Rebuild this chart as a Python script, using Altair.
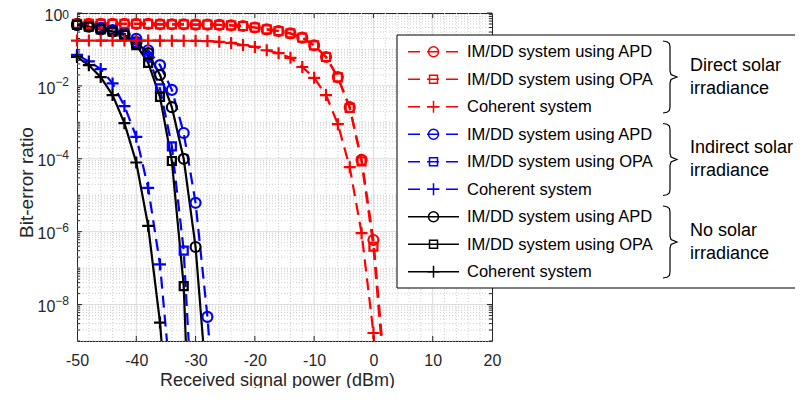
import altair as alt
import pandas as pd

FONT = "Liberation Sans"
AX = "#262626"
W, H = 415, 328

# ---------------- data (BER) ----------------
x_direct = [-50, -48, -46, -44, -42, -40, -38, -36, -34, -32, -30, -28, -26, -24,
            -22, -20, -18, -16, -14, -12, -10, -8, -6, -4, -2, 0, 2]
ber_direct_apd = [0.50, 0.50, 0.50, 0.50, 0.50, 0.50, 0.50, 0.49, 0.49, 0.49, 0.48, 0.48, 0.47, 0.46,
                  0.44, 0.40, 0.355, 0.32, 0.275, 0.21, 0.13, 0.062, 0.0174, 2.6e-3, 9.3e-5, 5.9e-7, 1e-10]
ber_direct_opa = [0.50, 0.50, 0.50, 0.50, 0.50, 0.50, 0.50, 0.49, 0.49, 0.49, 0.48, 0.48, 0.47, 0.46,
                  0.44, 0.40, 0.355, 0.32, 0.275, 0.21, 0.13, 0.062, 0.0172, 2.5e-3, 8.5e-5, 3.9e-7, 5e-11]
ber_direct_coh = [0.175, 0.175, 0.175, 0.175, 0.175, 0.175, 0.175, 0.174, 0.174, 0.173, 0.172, 0.17, 0.162, 0.151,
                  0.132, 0.117, 0.095, 0.079, 0.059, 0.033, 0.0166, 5.6e-3, 8.9e-4, 5.9e-5, 9.1e-7, 1.66e-9, 1e-13]

x_ind_apd = [-50, -48, -46, -44, -42, -40, -38, -36, -34, -32, -30, -28, -26]
ber_ind_apd = [0.47, 0.44, 0.39, 0.34, 0.26, 0.195, 0.095, 0.037, 7.8e-3, 5.1e-4, 6.2e-6, 4.6e-9, 3e-13]
x_ind_opa = [-50, -48, -46, -44, -42, -40, -38, -36, -34, -32, -30]
ber_ind_opa = [0.47, 0.44, 0.39, 0.34, 0.27, 0.151, 0.063, 8.5e-3, 2.2e-4, 3e-7, 3.2e-13]
x_ind_coh = [-50, -48, -46, -44, -42, -40, -38, -36, -34]
ber_ind_coh = [0.071, 0.047, 0.029, 0.0117, 2.8e-3, 4e-4, 1.6e-5, 1.26e-7, 3.2e-11]

x_no_apd = [-50, -48, -46, -44, -42, -40, -38, -36, -34, -32, -30, -28]
ber_no_apd = [0.47, 0.42, 0.355, 0.31, 0.25, 0.158, 0.079, 0.02, 2.6e-3, 1e-4, 3.8e-7, 3.2e-11]
x_no_opa = [-50, -48, -46, -44, -42, -40, -38, -36, -34, -32, -30]
ber_no_opa = [0.47, 0.42, 0.355, 0.31, 0.25, 0.132, 0.043, 5e-3, 8.7e-5, 3.2e-8, 1e-16]
x_no_coh = [-50, -48, -46, -44, -42, -40, -38, -36, -34]
ber_no_coh = [0.062, 0.037, 0.0174, 5.6e-3, 9.5e-4, 7.9e-5, 1.45e-6, 3.2e-9, 3.2e-13]

groups = ["Direct solar irradiance", "Indirect solar irradiance", "No solar irradiance"]
group_lines = [["Direct solar", "irradiance"], ["Indirect solar", "irradiance"], ["No solar", "irradiance"]]
kinds = ["IM/DD system using APD", "IM/DD system using OPA", "Coherent system"]
colors = ["#ff0000", "#0000ff", "#000000"]

x_ticks = [-50, -40, -30, -20, -10, 0, 10, 20]
y_label_exps = [0, -2, -4, -6, -8]

series_list = [
    (groups[0], kinds[0], x_direct, ber_direct_apd),
    (groups[0], kinds[1], x_direct, ber_direct_opa),
    (groups[0], kinds[2], x_direct, ber_direct_coh),
    (groups[1], kinds[0], x_ind_apd, ber_ind_apd),
    (groups[1], kinds[1], x_ind_opa, ber_ind_opa),
    (groups[1], kinds[2], x_ind_coh, ber_ind_coh),
    (groups[2], kinds[0], x_no_apd, ber_no_apd),
    (groups[2], kinds[1], x_no_opa, ber_no_opa),
    (groups[2], kinds[2], x_no_coh, ber_no_coh),
]
rows = []
for si, (g, k, xs, ys) in enumerate(series_list):
    for xv, yv in zip(xs, ys):
        rows.append(dict(group=g, kind=k, series=si, x=xv, ber=yv))
df = pd.DataFrame(rows)
df_pts = df[df.ber >= 1e-9]

# ---------------- scales / encodings ----------------
xscale = alt.Scale(domain=[-50, 20], nice=False, zero=False)
yscale = alt.Scale(type="log", domain=[1e-9, 1], nice=False)
color = alt.Color("group:N", scale=alt.Scale(domain=groups, range=colors), legend=None)
dash = alt.StrokeDash("group:N", scale=alt.Scale(domain=groups, range=[[12, 7], [12, 7], [1, 0]]), legend=None)
swidth = alt.StrokeWidth("group:N", scale=alt.Scale(domain=groups, range=[2.2, 2.2, 1.5]), legend=None)

xaxis = alt.Axis(values=x_ticks, labelExpr="'' + datum.value", labelFont=FONT, labelFontSize=16,
                 labelColor=AX, labelPadding=11, labelFlush=False, labelOverlap=False,
                 ticks=False, domain=False, grid=False,
                 title="Received signal power (dBm)", titleFont=FONT, titleFontSize=18,
                 titleFontWeight="normal", titleColor=AX, titleX=200, titleY=44,
                 titleBaseline="alphabetic", titleAlign="center")
Xn = lambda f: alt.X(f, scale=xscale, axis=xaxis)
Y = lambda f: alt.Y(f, scale=yscale, axis=None)

one = pd.DataFrame({"a": [0]})

# grid
x_major_grid = [v for v in x_ticks if -50 < v < 20]
x_minor_grid = [v for v in range(-48, 20, 2) if v % 10 != 0]
y_major = [10.0 ** e for e in y_label_exps if e < 0]
y_minor = [k * 10.0 ** e for e in range(-9, 0) for k in range(1, 10) if not (k == 1 and e % 2 == 0)]

grid_layers = [
    alt.Chart(pd.DataFrame({"v": x_minor_grid})).mark_rule(color="#cfcfcf", strokeWidth=1, strokeDash=[1, 2]).encode(x=Xn("v:Q")),
    alt.Chart(pd.DataFrame({"v": y_minor})).mark_rule(color="#cfcfcf", strokeWidth=1, strokeDash=[1, 2]).encode(y=Y("v:Q")),
    alt.Chart(pd.DataFrame({"v": x_major_grid})).mark_rule(color="#dcdcdc", strokeWidth=1).encode(x=Xn("v:Q")),
    alt.Chart(pd.DataFrame({"v": y_major})).mark_rule(color="#dcdcdc", strokeWidth=1).encode(y=Y("v:Q")),
]

lines = alt.Chart(df).mark_line(clip=True).encode(
    x=Xn("x:Q"), y=Y("ber:Q"), color=color, strokeDash=dash, strokeWidth=swidth,
    detail="series:N", order="x:Q")

plus_path = "M-1,0L1,0M0,-1L0,1"
pts = []
for k, shape, size in [(kinds[0], "circle", 100), (kinds[1], "square", 64), (kinds[2], plus_path, 144)]:
    pts.append(alt.Chart(df_pts[df_pts.kind == k]).mark_point(shape=shape, filled=False, size=size, opacity=1).encode(
        x=Xn("x:Q"), y=Y("ber:Q"), color=color, strokeWidth=swidth))

# ticks (inward)
y_major_ticks = [10.0 ** e for e in y_label_exps]
tick_layers = [
    alt.Chart(pd.DataFrame({"v": x_major_grid})).mark_rule(color=AX).encode(x=Xn("v:Q"), y=alt.value(H), y2=alt.value(H - 5)),
    alt.Chart(pd.DataFrame({"v": x_major_grid})).mark_rule(color=AX).encode(x=Xn("v:Q"), y=alt.value(0), y2=alt.value(5)),
    alt.Chart(pd.DataFrame({"v": y_major_ticks})).mark_rule(color=AX).encode(y=Y("v:Q"), x=alt.value(0), x2=alt.value(5)),
    alt.Chart(pd.DataFrame({"v": y_minor})).mark_rule(color=AX).encode(y=Y("v:Q"), x=alt.value(0), x2=alt.value(3)),
    alt.Chart(pd.DataFrame({"v": y_major_ticks})).mark_rule(color=AX).encode(y=Y("v:Q"), x=alt.value(W), x2=alt.value(W - 5)),
    alt.Chart(pd.DataFrame({"v": y_minor})).mark_rule(color=AX).encode(y=Y("v:Q"), x=alt.value(W), x2=alt.value(W - 3)),
]

# y tick labels 10^e
ylab = []
for e in y_label_exps:
    s = "0" if e == 0 else "\u2212" + str(-e)
    w = 6.7 if e == 0 else 13.7
    edy = 6 if e == 0 else 0.5
    d = pd.DataFrame({"v": [10.0 ** e]})
    ylab.append(alt.Chart(d).mark_text(align="right", baseline="alphabetic", font=FONT, fontSize=16, color=AX, dy=7.7).encode(
        x=alt.value(-8 - w), y=Y("v:Q"), text=alt.value("10")))
    ylab.append(alt.Chart(d).mark_text(align="left", baseline="alphabetic", font=FONT, fontSize=12, color=AX, dy=edy).encode(
        x=alt.value(-8 - w), y=Y("v:Q"), text=alt.value(s)))

ytitle = alt.Chart(one).mark_text(angle=270, align="center", baseline="middle", font=FONT, fontSize=19, color=AX).encode(
    x=alt.value(-50), y=alt.value(169.5), text=alt.value("Bit-error ratio"))

main = alt.layer(*grid_layers, lines, *pts, *tick_layers, *ylab, ytitle)

# ---------------- legend overlay (pixel-identity scales) ----------------
px = alt.Scale(domain=[0, W], nice=False, zero=False)
py = alt.Scale(domain=[0, H], nice=False, zero=False, reverse=True)
PX = lambda f: alt.X(f, scale=px, axis=None)
PY = lambda f: alt.Y(f, scale=py, axis=None)

row0, rstep = 38.7, 27.5
leg = pd.DataFrame([dict(group=groups[i // 3], kind=kinds[i % 3], ry=row0 + rstep * i,
                         ty=row0 + rstep * i + 5.6, x0=331, x1=382, xm=356.5, tx=390) for i in range(9)])

box = alt.Chart(pd.DataFrame({"x0": [320], "x1": [724], "y0": [22], "y1": [275]})).mark_rect(
    fill="white", stroke="#000000", strokeWidth=1).encode(x=PX("x0:Q"), x2="x1:Q", y=PY("y0:Q"), y2="y1:Q")
leg_lines = alt.Chart(leg).mark_rule(strokeWidth=1.6).encode(
    x=PX("x0:Q"), x2="x1:Q", y=PY("ry:Q"), color=color, strokeDash=dash)
leg_pts = []
for k, shape, size in [(kinds[0], "circle", 100), (kinds[1], "square", 64), (kinds[2], plus_path, 144)]:
    leg_pts.append(alt.Chart(leg[leg.kind == k]).mark_point(shape=shape, filled=False, size=size, opacity=1, strokeWidth=1.5).encode(
        x=PX("xm:Q"), y=PY("ry:Q"), color=color))
leg_text = alt.Chart(leg).mark_text(align="left", baseline="alphabetic", font=FONT, fontSize=16.5, color="#000000").encode(
    x=PX("tx:Q"), y=PY("ty:Q"), text="kind:N")

brace_rows = []
brace_shape = [(586, -36), (590, -35.3), (592.4, -33.5), (593, -30), (593, -6), (594, -2.5), (600, 0),
               (594, 2.5), (593, 6), (593, 30), (592.4, 33.5), (590, 35.3), (586, 36)]
glabel_rows = []
for gi in range(3):
    mid = row0 + rstep * (3 * gi + 1)
    cy = mid - 2.2
    for j, (bx, by) in enumerate(brace_shape):
        brace_rows.append(dict(b=gi, o=j, bx=bx, by=cy + by))
    glabel_rows.append(dict(t=group_lines[gi][0], gx=613, gy=mid - 8.6))
    glabel_rows.append(dict(t=group_lines[gi][1], gx=613, gy=mid + 14.7))
braces = alt.Chart(pd.DataFrame(brace_rows)).mark_line(color="#000000", strokeWidth=1.2).encode(
    x=PX("bx:Q"), y=PY("by:Q"), detail="b:N", order="o:Q")
glabels = alt.Chart(pd.DataFrame(glabel_rows)).mark_text(align="left", baseline="alphabetic", font=FONT, fontSize=18, color="#000000").encode(
    x=PX("gx:Q"), y=PY("gy:Q"), text="t:N")

overlay = alt.layer(box, leg_lines, *leg_pts, leg_text, braces, glabels)

chart = alt.layer(main, overlay).resolve_scale(x="independent", y="independent").properties(
    width=W, height=H,
    autosize=alt.AutoSizeParams(type="none"),
    padding={"left": 69, "top": 5, "right": 303, "bottom": 47},
).configure_view(stroke=AX, strokeWidth=1)

chart.save("out.html", embed_options={"renderer": "svg", "actions": False})
